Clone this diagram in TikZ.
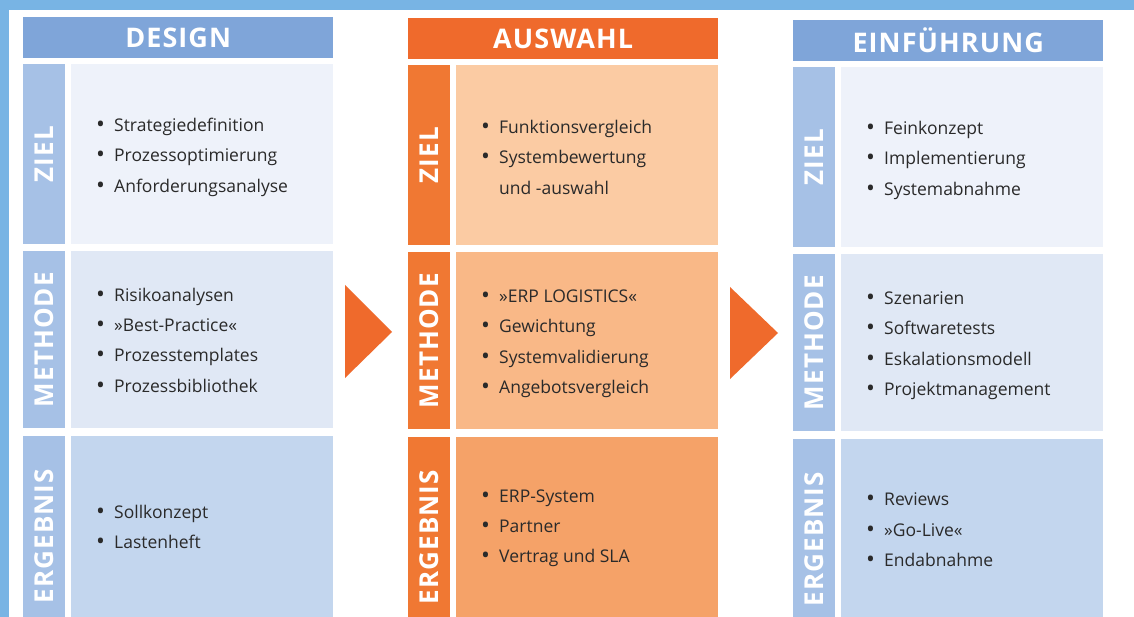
\documentclass[tikz,border=0pt]{standalone}
\usepackage{fontspec}
\setmainfont{Open Sans}
\newfontfamily\leistenfont[LetterSpace=4]{Open Sans}
\usetikzlibrary{positioning}
\definecolor{rahmen}{HTML}{78B4E4}
\definecolor{kopfb}{HTML}{7FA5D9}
\definecolor{leisteb}{HTML}{A6C1E6}
\definecolor{zielb}{HTML}{EEF2FA}
\definecolor{methb}{HTML}{E0E8F5}
\definecolor{ergb}{HTML}{C3D6EE}
\definecolor{kopfo}{HTML}{EF6A2C}
\definecolor{leisteo}{HTML}{F07833}
\definecolor{zielo}{HTML}{FBCBA3}
\definecolor{metho}{HTML}{F9B887}
\definecolor{ergo}{HTML}{F5A268}
\definecolor{schrift}{HTML}{2A2A2A}
\newcommand{\pkt}[1]{\makebox[18pt][l]{\raisebox{-1pt}{\scalebox{1.35}{\textbullet}}}#1}
\newcommand{\wtr}[1]{\makebox[18pt][l]{}#1}
% Spalte: Name, x, y, Farbe, Titel
\newcommand{\spalte}[5]{%
  \node[kopf, fill=kopf#4] (#1) at (#2,#3) {#5};%
  \node[leiste, fill=leiste#4, minimum height=180pt] (#1-ziel-l) at (#2,#3+47) {\rotatebox{90}{ZIEL}};%
  \node[leiste, fill=leiste#4, minimum height=177pt] (#1-meth-l) at (#2,#3+234) {\rotatebox{90}{METHODE}};%
  \node[leiste, fill=leiste#4, minimum height=200pt] (#1-erg-l) at (#2,#3+419) {\rotatebox{90}{ERGEBNIS}};%
  \node[feld, fill=ziel#4, minimum height=180pt] (#1-ziel) at (#2+48,#3+47) {};%
  \node[feld, fill=meth#4, minimum height=177pt] (#1-meth) at (#2+48,#3+234) {};%
  \node[feld, fill=erg#4, minimum height=200pt] (#1-erg) at (#2+48,#3+419) {};%
}

\begin{document}
\begin{tikzpicture}[%
    x=1pt,y=-1pt,%
    kopf/.style={anchor=north west, inner sep=0pt, minimum width=310pt,%
      minimum height=41pt, text=white, font=\bfseries\leistenfont\fontsize{27}{27}\selectfont},%
    leiste/.style={anchor=north west, inner sep=0pt, minimum width=42pt,%
      text=white, font=\bfseries\leistenfont\fontsize{26}{26}\selectfont},%
    feld/.style={anchor=north west, inner sep=0pt, minimum width=262pt},%
    liste/.style={inner sep=0pt, align=left, text=schrift,%
      font=\fontsize{17.5}{30.3}\selectfont},%
    pfeil/.style={fill=kopfo}%
    ]
  % Rahmen
  \clip (0,0) rectangle (1134,617);%
  \fill[white] (0,0) rectangle (1134,617);%
  \fill[rahmen] (0,0) rectangle (1134,10);%
  \fill[rahmen] (0,0) rectangle (9,617);%

  % Spalten
  \spalte{design}{23}{17}{b}{DESIGN}%
  \spalte{auswahl}{408}{18}{o}{AUSWAHL}%
  \spalte{einf}{793}{20}{b}{EINFÜHRUNG}%

  % Texte
  \node[liste, right=25pt of design-ziel.west, yshift=-3pt] (design-ziel-t)
  {\pkt{Strategiedefinition}\\ \pkt{Prozessoptimierung}\\ \pkt{Anforderungsanalyse}};%
  \node[liste, right=25pt of design-meth.west, yshift=-1pt] (design-meth-t)
  {\pkt{Risikoanalysen}\\ \pkt{»Best-Practice«}\\ \pkt{Prozesstemplates}\\ \pkt{Prozessbibliothek}};%
  \node[liste, right=25pt of design-erg.west, yshift=9pt] (design-erg-t)
  {\pkt{Sollkonzept}\\ \pkt{Lastenheft}};%
  \node[liste, right=25pt of auswahl-ziel.west, yshift=-2pt] (auswahl-ziel-t)
  {\pkt{Funktionsvergleich}\\ \pkt{Systembewertung}\\ \wtr{und -auswahl}};%
  \node[liste, right=25pt of auswahl-meth.west, yshift=-3pt] (auswahl-meth-t)
  {\pkt{»ERP LOGISTICS«}\\ \pkt{Gewichtung}\\ \pkt{Systemvalidierung}\\ \pkt{Angebotsvergleich}};%
  \node[liste, right=25pt of auswahl-erg.west, yshift=9pt] (auswahl-erg-t)
  {\pkt{ERP-System}\\ \pkt{Partner}\\ \pkt{Vertrag und SLA}};%
  \node[liste, right=25pt of einf-ziel.west, yshift=-3pt] (einf-ziel-t)
  {\pkt{Feinkonzept}\\ \pkt{Implementierung}\\ \pkt{Systemabnahme}};%
  \node[liste, right=25pt of einf-meth.west, yshift=-3pt] (einf-meth-t)
  {\pkt{Szenarien}\\ \pkt{Softwaretests}\\ \pkt{Eskalationsmodell}\\ \pkt{Projektmanagement}};%
  \node[liste, right=25pt of einf-erg.west, yshift=9pt] (einf-erg-t)
  {\pkt{Reviews}\\ \pkt{»Go-Live«}\\ \pkt{Endabnahme}};%

  % Pfeile
  \fill[pfeil] (345,285) -- (392,332) -- (345,378) -- cycle;%
  \fill[pfeil] (730,287) -- (778,333) -- (730,379) -- cycle;%
\end{tikzpicture}
\end{document}
